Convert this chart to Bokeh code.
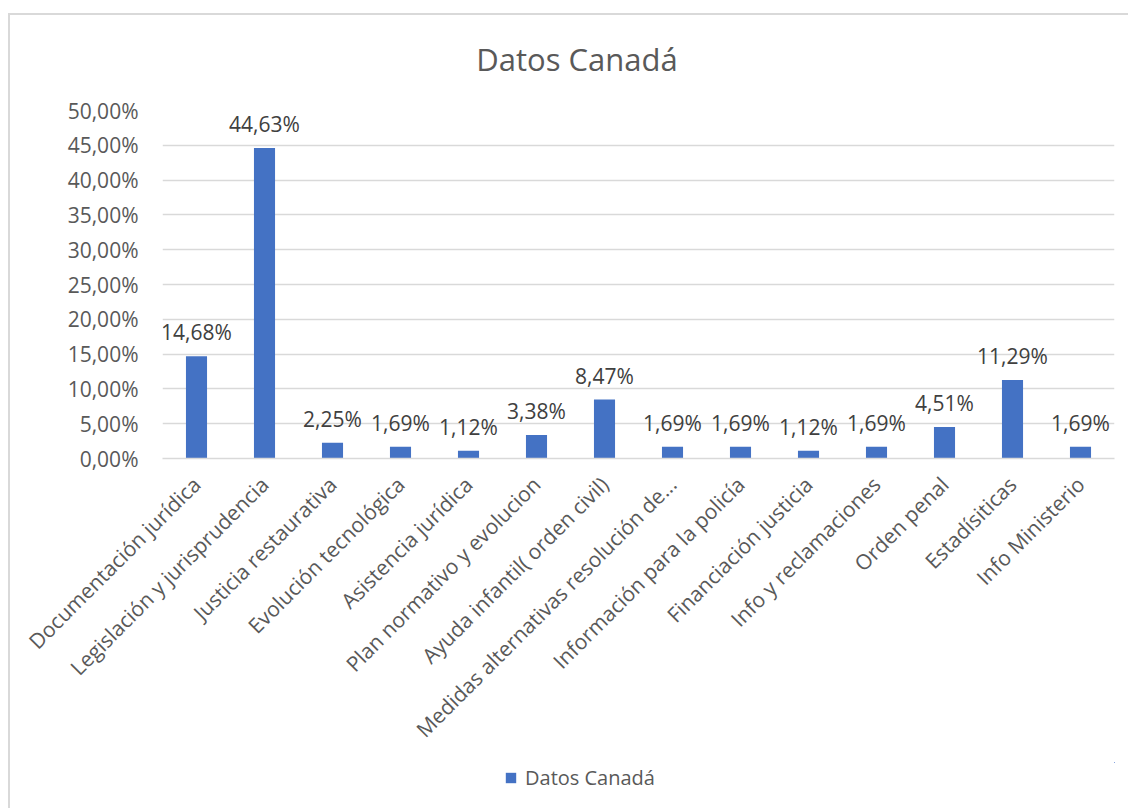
from bokeh.plotting import figure
from bokeh.models import (ColumnDataSource, Range1d, FixedTicker, Legend,
                          LegendItem, Spacer, Label)
from bokeh.layouts import column, row
from bokeh.core.properties import value
from bokeh.embed import file_html
from bokeh.resources import INLINE

categories = [
    "Documentación jurídica",
    "Legislación y jurisprudencia",
    "Justicia restaurativa",
    "Evolución tecnológica",
    "Asistencia jurídica",
    "Plan normativo y evolucion",
    "Ayuda infantil( orden civil)",
    "Medidas alternativas resolución de...",
    "Información para la policía",
    "Financiación justicia",
    "Info y reclamaciones",
    "Orden penal",
    "Estadísiticas",
    "Info Ministerio",
]
values = [14.68, 44.63, 2.25, 1.69, 1.12, 3.38, 8.47, 1.69, 1.69, 1.12, 1.69, 4.51, 11.29, 1.69]
y_ticks = [0, 5, 10, 15, 20, 25, 30, 35, 40, 45, 50]
y_tick_labels = ["0,00%", "5,00%", "10,00%", "15,00%", "20,00%", "25,00%",
                 "30,00%", "35,00%", "40,00%", "45,00%", "50,00%"]
series_name = "Datos Canadá"
chart_title = "Datos Canadá"

FONT = "Open Sans"
BLUE = "#4472C4"
GRID = "#d9d9d9"
TXT = "#595959"

labels = [f"{v:.2f}".replace(".", ",") + "%" for v in values]
src = ColumnDataSource(dict(cat=categories, val=values, lab=labels))


def strip(height, styles):
    f = figure(width=1120, height=height, output_backend="svg", toolbar_location=None,
               x_axis_type=None, y_axis_type=None,
               x_range=Range1d(0, 1), y_range=Range1d(0, 1),
               min_border=0, min_border_left=0, min_border_right=0,
               min_border_top=0, min_border_bottom=0, styles=styles)
    f.outline_line_color = None
    f.grid.visible = False
    return f


# title strip
tp = strip(70, {"border-left": "2px solid #d9d9d9", "border-top": "2px solid #d9d9d9"})
tp.add_layout(Label(x=0.4354, y=0.3857, text=chart_title, text_font=FONT,
                    text_font_size="31px", text_color=TXT, text_align="center",
                    text_baseline="middle"))

# main chart
p = figure(x_range=categories, y_range=Range1d(0, 50), width=1120, height=679,
           output_backend="svg", toolbar_location=None,
           min_border_left=152, min_border_right=16, min_border_top=27,
           min_border_bottom=304,
           styles={"border-left": "2px solid #d9d9d9"})
p.outline_line_color = None
p.background_fill_color = "white"
p.border_fill_color = "white"

bars = p.vbar(x="cat", top="val", width=0.31, source=src, fill_color=BLUE, line_color=None)

p.text(x="cat", y="val", text="lab", source=src, text_font=value(FONT),
       text_font_size="21px", text_color="#404040", text_align="center",
       text_baseline="middle", y_offset=-24)

p.yaxis.ticker = FixedTicker(ticks=y_ticks)
p.yaxis.major_label_overrides = {t: l for t, l in zip(y_ticks, y_tick_labels)}
p.yaxis.axis_line_color = None
p.yaxis.major_tick_line_color = None
p.yaxis.minor_tick_line_color = None
p.yaxis.major_label_text_font = FONT
p.yaxis.major_label_text_font_size = "21px"
p.yaxis.major_label_text_color = TXT
p.yaxis.major_label_standoff = 18

p.xaxis.axis_line_color = GRID
p.xaxis.axis_line_width = 1.5
p.xaxis.major_tick_line_color = None
p.xaxis.minor_tick_line_color = None
p.xaxis.major_label_orientation = 0.7853981634
p.xaxis.major_label_text_font = FONT
p.xaxis.major_label_text_font_size = "21px"
p.xaxis.major_label_text_color = TXT
p.xaxis.major_label_standoff = 16

p.xgrid.grid_line_color = None
p.ygrid.grid_line_color = GRID
p.ygrid.grid_line_width = 1.5

# legend strip (separate figure so the legend is not clipped)
lg = strip(46, {"border-left": "2px solid #d9d9d9"})
lg.x_range = Range1d(-3, -2)
lg.y_range = Range1d(-3, -2)
# legend proxy: same series, lies outside this strip's view so only its legend swatch shows
proxy = lg.vbar(x="val", top="val", bottom=0, width=0.31, source=src,
                fill_color=BLUE, line_color=None)
legend = Legend(items=[LegendItem(label=series_name, renderers=[proxy], index=0)],
                location=(342, 17), orientation="horizontal",
                glyph_width=13, glyph_height=13, label_standoff=8,
                padding=0, margin=0, border_line_color=None,
                background_fill_alpha=0,
                label_text_font=FONT, label_text_font_size="20px",
                label_text_color=TXT)
lg.add_layout(legend, "center")

layout = column(Spacer(height=13),
                row(Spacer(width=8), column(tp, p, lg, spacing=0), spacing=0),
                spacing=0)
open("out.html", "w").write(file_html(layout, INLINE))
